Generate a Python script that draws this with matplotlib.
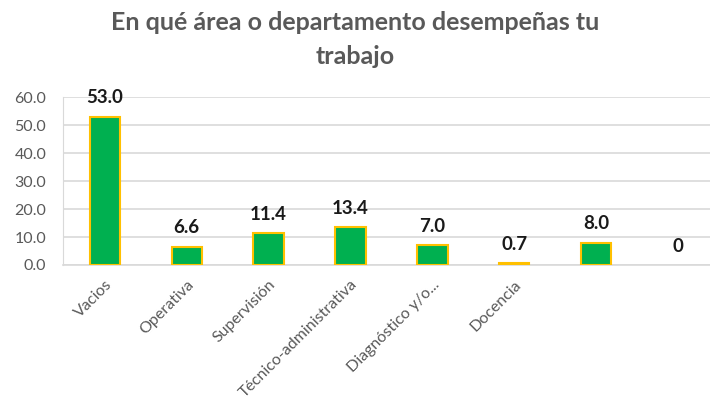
import matplotlib.pyplot as plt
import numpy as np

# data
categories = ["Vacios", "Operativa", "Supervisión", "Técnico-administrativa",
              "Diagnóstico y/o...", "Docencia", "", ""]
values = [53.0, 6.6, 11.4, 13.4, 7.0, 0.7, 8.0, 0]
value_labels = ["53.0", "6.6", "11.4", "13.4", "7.0", "0.7", "8.0", "0"]

plt.rcParams['font.family'] = ['Lato', 'DejaVu Sans']

fig = plt.figure(figsize=(7.1, 4.11), dpi=100)
ax = fig.add_axes([63 / 710, 1 - 265 / 411, 1 - 63 / 710, 168 / 411])

x = np.arange(len(categories))
# no outline on empty bars
lws = [1.5 if v > 0 else 0 for v in values]
ax.bar(x, values, width=0.37, color='#00B050', edgecolor='#FFC000', linewidth=lws, zorder=3)

for xi, v, lab in zip(x, values, value_labels):
    ax.annotate(lab, (xi, v), xytext=(0, 13.5), textcoords='offset points',
                ha='center', va='center', fontsize=13.5, fontweight='bold', color='#1a1a1a')

ax.set_xlim(-0.51, 7.39)
ax.set_ylim(0, 60)
ax.set_yticks(np.arange(0, 61, 10))
ax.set_yticklabels([f"{t:.1f}" for t in np.arange(0, 61, 10)], fontsize=11.5, color='#595959')
ax.yaxis.grid(True, color='#D9D9D9', linewidth=1.2, zorder=0)

ax.set_xticks(x)
ax.set_xticklabels(categories, rotation=45, ha='right', rotation_mode='anchor',
                   fontsize=11.5, color='#595959')
ax.tick_params(axis='both', length=0)
ax.tick_params(axis='y', pad=12)
ax.tick_params(axis='x', pad=9)

for s in ['top', 'right']:
    ax.spines[s].set_visible(False)
ax.spines['left'].set_color('#D9D9D9')
ax.spines['bottom'].set_color('#D9D9D9')
ax.spines['bottom'].set_linewidth(1.2)

fig.text(0.5, 1 - 22 / 411, "En qué área o departamento desempeñas tu", ha='center', va='center',
         fontsize=18, fontweight='bold', color='#595959')
fig.text(0.5, 1 - 56 / 411, "trabajo", ha='center', va='center',
         fontsize=18, fontweight='bold', color='#595959')

fig.savefig("out.png", dpi=100)
